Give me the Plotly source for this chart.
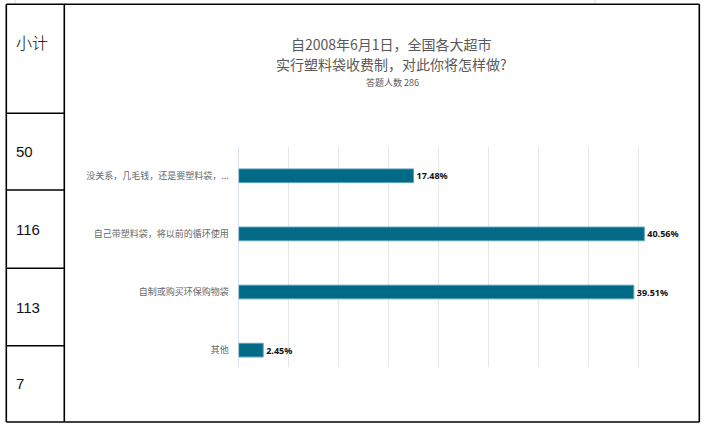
import plotly.graph_objects as go

# ---- data ----
categories = ["没关系，几毛钱，还是要塑料袋，...", "自己带塑料袋，将以前的循环使用", "自制或购买环保购物袋", "其他"]
percents = [17.48, 40.56, 39.51, 2.45]
counts = [50, 116, 113, 7]
table_header = "小计"
title_line1 = "自2008年6月1日，全国各大超市"
title_line2 = "实行塑料袋收费制，对此你将怎样做?"
subtitle = "答题人数 286"

W, H = 710, 431

def px(x):
    return x / W

def py(y):
    return 1 - y / H

fig = go.Figure()
fig.add_trace(go.Bar(
    y=categories,
    x=percents,
    orientation="h",
    width=0.235,
    marker=dict(color="#006a87", line=dict(color="#5b9fb6", width=1)),
    text=[f"{v:.2f}%" for v in percents],
    textposition="outside",
    cliponaxis=False,
    textfont=dict(family="Noto Sans", size=9, color="#111111", weight="bold"),
    hoverinfo="skip",
))

x0, x1 = 238.7, 650.0
fig.update_layout(
    width=W, height=H,
    margin=dict(l=0, r=0, t=0, b=0),
    paper_bgcolor="white", plot_bgcolor="white",
    showlegend=False,
    font=dict(family="Noto Sans CJK SC"),
    xaxis=dict(
        domain=[px(x0), px(x1)],
        range=[0, (x1 - x0) / 10.0],
        dtick=5, showticklabels=False, ticks="",
        showgrid=True, gridcolor="#e6e6e6", gridwidth=1,
        zeroline=True, zerolinecolor="#d6e0f0", zerolinewidth=1,
        showline=False,
    ),
    yaxis=dict(
        domain=[py(367), py(147)],
        type="category",
        range=[3.29, -0.495],
        ticks="", showgrid=False, zeroline=False, showline=False,
        ticklabelstandoff=9,
        tickfont=dict(family="Noto Sans CJK SC", size=9, color="#666666"),
    ),
)

# ---- frame / table lines ----
line_kw = dict(color="black", width=1.6)
L, R, T, B = 6.3, 699.3, 4.3, 422.0
col = 64.3
rows = [T, 113.3, 190.0, 268.3, 345.7, B]
shapes = []
def seg(xa, ya, xb, yb, **kw):
    shapes.append(dict(type="line", xref="paper", yref="paper",
                       x0=px(xa), y0=py(ya), x1=px(xb), y1=py(yb), line=kw or line_kw))
# faint spreadsheet gridlines above the frame
seg(15, 0, 15, T, color="#d9d9d9", width=1)
seg(595, 0, 595, T, color="#d9d9d9", width=1)
seg(L, T, R, T)
seg(L, B, R, B)
seg(L, T, L, B)
seg(R, T, R, B)
seg(col, T, col, B)
for r in rows[1:-1]:
    seg(L, r, col, r)
fig.update_layout(shapes=shapes)

ann = []
ann.append(dict(text=table_header, x=px(14), y=py(42), xref="paper", yref="paper",
                xanchor="left", yanchor="middle", showarrow=False,
                font=dict(family="Noto Sans CJK SC", size=16, color="black", weight=300)))
for i, c in enumerate(counts):
    yc = (rows[i + 1] + rows[i + 2]) / 2
    ann.append(dict(text=str(c), x=px(14), y=py(yc), xref="paper", yref="paper",
                    xanchor="left", yanchor="middle", showarrow=False,
                    font=dict(family="Liberation Sans", size=15, color="#111111")))
cx = px(391)
ann.append(dict(text=title_line1, x=cx, y=py(44), xref="paper", yref="paper",
                xanchor="center", yanchor="middle", showarrow=False,
                font=dict(family="Noto Sans CJK SC", size=14, color="#595959")))
ann.append(dict(text=title_line2, x=cx, y=py(64.5), xref="paper", yref="paper",
                xanchor="center", yanchor="middle", showarrow=False,
                font=dict(family="Noto Sans CJK SC", size=14, color="#595959")))
ann.append(dict(text=subtitle, x=px(392), y=py(82), xref="paper", yref="paper",
                xanchor="center", yanchor="middle", showarrow=False,
                font=dict(family="Noto Sans CJK SC", size=9, color="#595959")))
fig.update_layout(annotations=ann)

fig.write_html("out.html", config={"displayModeBar": False},
               post_script="document.body.style.margin='0';document.body.style.overflow='hidden';")
